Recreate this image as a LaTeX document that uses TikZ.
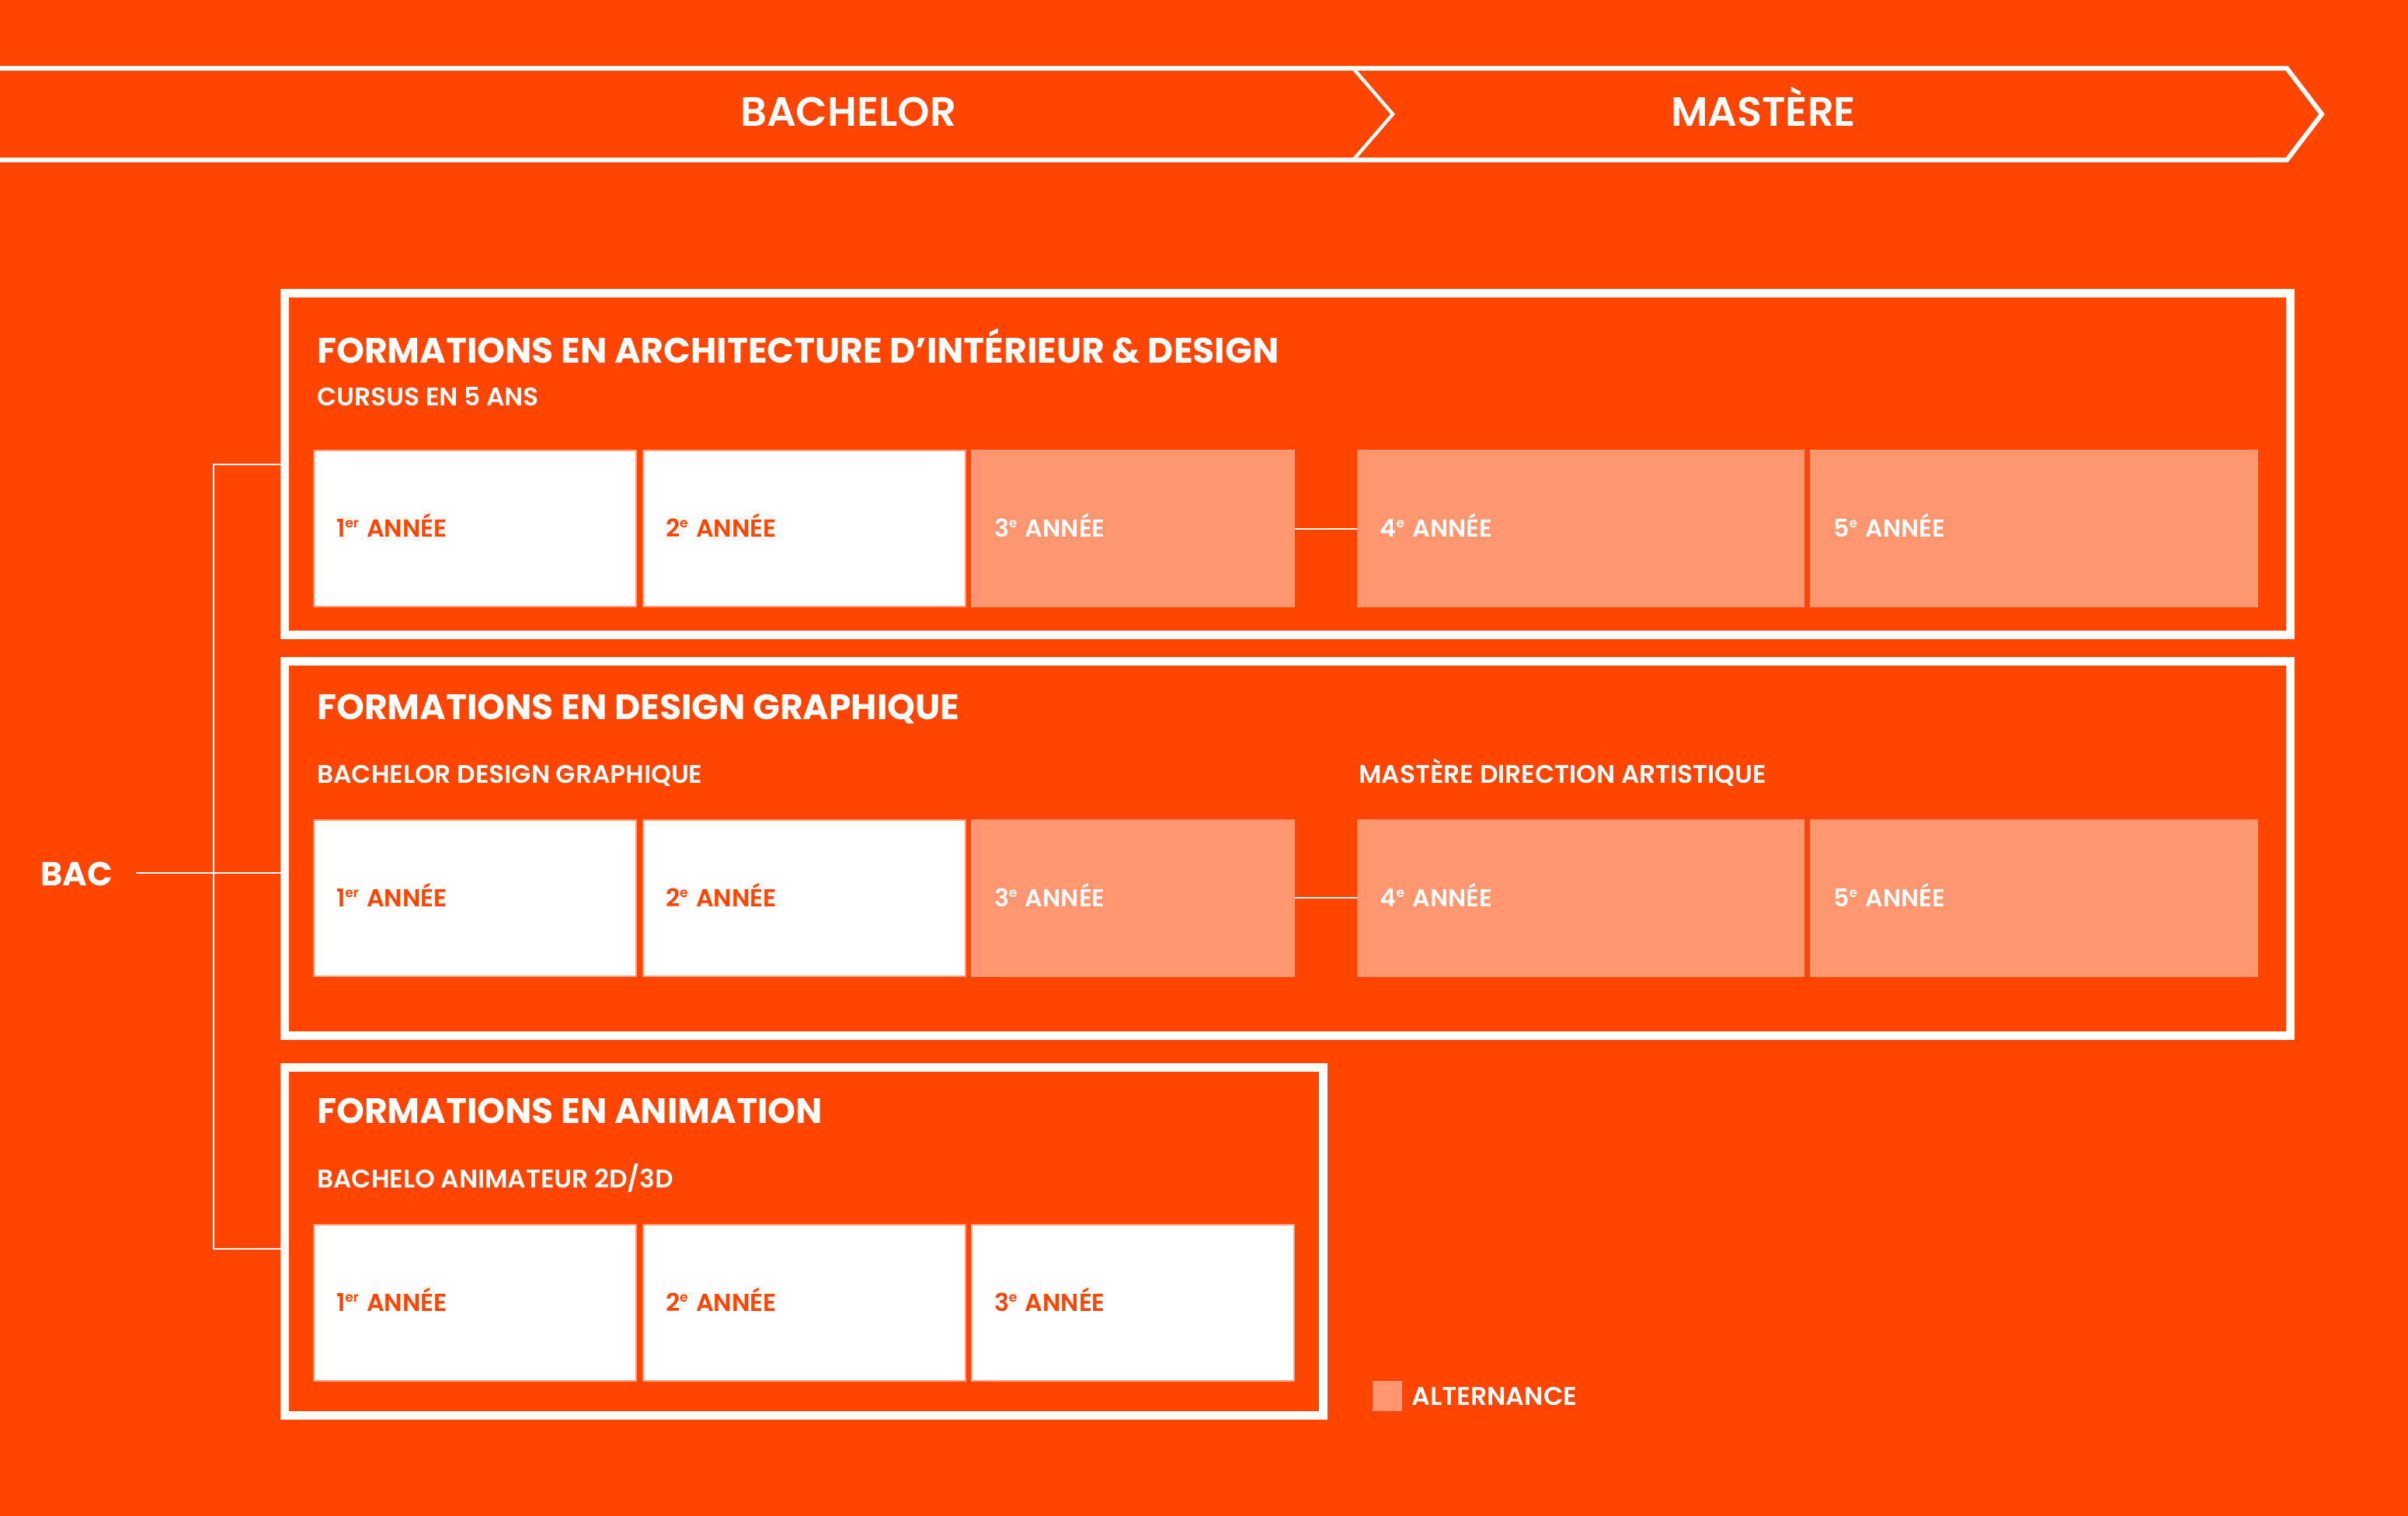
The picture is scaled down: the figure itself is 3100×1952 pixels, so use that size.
\documentclass[tikz,border=0pt]{standalone}
\usepackage{fontspec}
\setmainfont{Poppins}
\newfontfamily\pbold{Poppins Bold}
\newfontfamily\psemi{Poppins SemiBold}
\definecolor{bg}{HTML}{FF4500}
\definecolor{salmon}{HTML}{FF9670}
\definecolor{edge}{HTML}{FFA283}
\newcommand\yrsup[1]{\raisebox{6pt}{\fontsize{8.5pt}{10pt}\selectfont #1}}
\tikzset{
  frame/.style={draw=white, line width=5.5pt, rectangle, inner sep=0pt},
  ttl/.style={text=white, inner sep=0pt, anchor=base west, font=\pbold\fontsize{22.8pt}{26pt}\selectfont},
  sub/.style={text=white, inner sep=0pt, anchor=base west, font=\psemi\fontsize{16.4pt}{20pt}\selectfont},
  banner/.style={text=white, inner sep=0pt, anchor=base, font=\psemi\fontsize{26.4pt}{30pt}\selectfont},
  yrbox/.style={rectangle, minimum height=100.5pt, inner xsep=14.5pt, inner ysep=0pt, align=left,
     text height=11pt, text depth=0pt, font=\psemi\fontsize{15.8pt}{20pt}\selectfont},
  ysmall/.style={yrbox, minimum width=207.5pt, text width=178.5pt},
  ylarge/.style={yrbox, minimum width=287.25pt, text width=258.25pt},
  wbox/.style={fill=white, draw=edge, line width=1pt, text=bg},
  sbox/.style={fill=salmon, draw=salmon, line width=1pt, text=white},
  conn/.style={draw=white, line width=1pt},
}
\begin{document}
\begin{tikzpicture}[x=0.5pt,y=-0.5pt]
\useasboundingbox (0,0) rectangle (3100,1952);
\fill[bg] (0,0) rectangle (3100,1952);
% banner
\draw[white, line width=3pt, line join=miter] (-20,88) -- (2944,88) -- (2989,147) -- (2944,206) -- (-20,206);
\draw[white, line width=2.25pt, line join=miter] (1742,88) -- (1793,147) -- (1742,206);
\node[banner] (bach) at (1092,163) {BACHELOR};
\node[banner] (mast) at (2270,163) {MASTÈRE};
% frames
\node[frame, minimum width=1290.75pt, minimum height=220pt] (f1) at (1657.25,597.5) {};
\node[frame, minimum width=1290.75pt, minimum height=241pt] (f2) at (1657.25,1092.5) {};
\node[frame, minimum width=668.5pt, minimum height=224pt] (f3) at (1035,1598.5) {};
% frame 1
\node[ttl] (t1) at (408,468) {FORMATIONS EN ARCHITECTURE D’INTÉRIEUR \& DESIGN};
\node[sub] (s1) at (408,523) {CURSUS EN 5 ANS};
\node[ysmall, wbox] (a1) at (611.5,680.5) {1\yrsup{er} ANNÉE};
\node[ysmall, wbox] (a2) at (1035.5,680.5) {2\yrsup{e} ANNÉE};
\node[ysmall, sbox] (a3) at (1458.5,680.5) {3\yrsup{e} ANNÉE};
\node[ylarge, sbox] (a4) at (2035,680.5) {4\yrsup{e} ANNÉE};
\node[ylarge, sbox] (a5) at (2618.5,680.5) {5\yrsup{e} ANNÉE};
\draw[conn] (a3.east) -- (a4.west);
% frame 2
\node[ttl] (t2) at (408,926) {FORMATIONS EN DESIGN GRAPHIQUE};
\node[sub] (s2) at (408,1008) {BACHELOR DESIGN GRAPHIQUE};
\node[sub] (s2b) at (1749,1008) {MASTÈRE DIRECTION ARTISTIQUE};
\node[ysmall, wbox] (b1) at (611.5,1156) {1\yrsup{er} ANNÉE};
\node[ysmall, wbox] (b2) at (1035.5,1156) {2\yrsup{e} ANNÉE};
\node[ysmall, sbox] (b3) at (1458.5,1156) {3\yrsup{e} ANNÉE};
\node[ylarge, sbox] (b4) at (2035,1156) {4\yrsup{e} ANNÉE};
\node[ylarge, sbox] (b5) at (2618.5,1156) {5\yrsup{e} ANNÉE};
\draw[conn] (b3.east) -- (b4.west);
% frame 3
\node[ttl] (t3) at (408,1446) {FORMATIONS EN ANIMATION};
\node[sub] (s3) at (408,1529) {BACHELO ANIMATEUR 2D/3D};
\node[ysmall, wbox] (c1) at (611.5,1677.5) {1\yrsup{er} ANNÉE};
\node[ysmall, wbox] (c2) at (1035.5,1677.5) {2\yrsup{e} ANNÉE};
\node[ysmall, wbox] (c3) at (1458.5,1677.5) {3\yrsup{e} ANNÉE};
% BAC and bracket
\node[ttl, font=\pbold\fontsize{21.5pt}{26pt}\selectfont] (bac) at (52,1140) {BAC};
\coordinate (bacend) at (175,1124);
\coordinate (j1) at (275,598);
\coordinate (j3) at (275,1608);
\draw[conn] (bacend) -- (bacend -| f2.west);
\draw[conn] (j1 -| f1.west) -- (j1) -- (j3) -- (j3 -| f3.west);
% legend
\node[fill=salmon, minimum width=19pt, minimum height=19.5pt, inner sep=0pt] (leg) at (1786,1797.5) {};
\node[sub, font=\psemi\fontsize{16.6pt}{20pt}\selectfont] (legt) at (1817,1809) {ALTERNANCE};
\end{tikzpicture}
\end{document}
